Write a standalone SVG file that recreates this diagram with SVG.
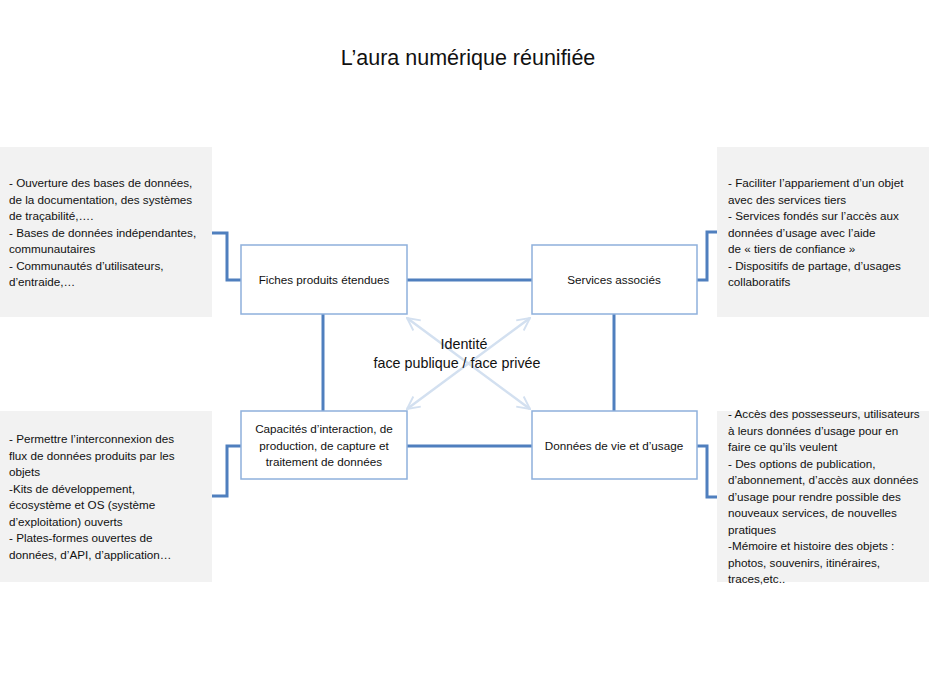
<svg xmlns="http://www.w3.org/2000/svg" width="929" height="697" viewBox="0 0 929 697">
<defs>
<style>
text{font-family:"Liberation Sans",Arial,sans-serif;fill:#111}
.title{font-size:21.5px;text-anchor:middle}
.lbl{font-size:11.7px;text-anchor:middle}
.note{font-size:11.7px}
.mid{font-size:14.3px;text-anchor:middle}
.grey{fill:#f2f2f2}
.node{fill:#fff;stroke:#8eb0dc;stroke-width:1.5}
.conn{fill:none;stroke:#4f7fbe;stroke-width:3}
.diag{fill:none;stroke:#d3e0f0;stroke-width:2.5}
</style>
<marker id="oa" viewBox="0 0 12 12" refX="11" refY="6" markerWidth="6" markerHeight="6" orient="auto-start-reverse" markerUnits="strokeWidth">
<path d="M1,1 L11,6 L1,11" fill="none" stroke="#d3e0f0" stroke-width="1.5"/>
</marker>
</defs>
<rect width="929" height="697" fill="#fff"/>
<text class="title" x="468" y="65">L’aura numérique réunifiée</text>

<g id="note-top-left">
<rect class="grey" x="0" y="147" width="212" height="170"/>
<text class="note" x="9"><tspan x="9" y="187">- Ouverture des bases de données,</tspan><tspan x="9" y="204">de la documentation, des systèmes</tspan><tspan x="9" y="220">de traçabilité,….</tspan><tspan x="9" y="237">- Bases de données indépendantes,</tspan><tspan x="9" y="253">communautaires</tspan><tspan x="9" y="270">- Communautés d’utilisateurs,</tspan><tspan x="9" y="286">d’entraide,…</tspan></text>
</g>
<g id="note-top-right">
<rect class="grey" x="717" y="147" width="212" height="170"/>
<text class="note"><tspan x="728" y="187">- Faciliter l’appariement d’un objet</tspan><tspan x="728" y="204">avec des services tiers</tspan><tspan x="728" y="220">- Services fondés sur l’accès aux</tspan><tspan x="728" y="237">données d’usage avec l’aide</tspan><tspan x="728" y="253">de « tiers de confiance »</tspan><tspan x="728" y="270">- Dispositifs de partage, d’usages</tspan><tspan x="728" y="286">collaboratifs</tspan></text>
</g>
<g id="note-bottom-left">
<rect class="grey" x="0" y="411" width="212" height="171"/>
<text class="note"><tspan x="9" y="443">- Permettre l’interconnexion des</tspan><tspan x="9" y="460">flux de données produits par les</tspan><tspan x="9" y="476">objets</tspan><tspan x="9" y="493">-Kits de développement,</tspan><tspan x="9" y="509">écosystème  et OS (système</tspan><tspan x="9" y="526">d’exploitation) ouverts</tspan><tspan x="9" y="542">- Plates-formes ouvertes de</tspan><tspan x="9" y="559">données, d’API, d’application…</tspan></text>
</g>
<g id="note-bottom-right">
<rect class="grey" x="717" y="411" width="212" height="171"/>
<text class="note"><tspan x="728" y="418">- Accès des possesseurs, utilisateurs</tspan><tspan x="728" y="435">à leurs données d’usage pour en</tspan><tspan x="728" y="451">faire ce qu’ils veulent</tspan><tspan x="728" y="468">- Des options de publication,</tspan><tspan x="728" y="484">d’abonnement, d’accès aux données</tspan><tspan x="728" y="501">d’usage pour rendre possible des</tspan><tspan x="728" y="517">nouveaux services, de nouvelles</tspan><tspan x="728" y="534">pratiques</tspan><tspan x="728" y="550">-Mémoire et histoire des objets :</tspan><tspan x="728" y="567">photos, souvenirs, itinéraires,</tspan><tspan x="728" y="583">traces,etc..</tspan></text>
</g>

<g id="connectors">
<polyline class="conn" points="212,233 227,233 227,280 241,280"/>
<line class="conn" x1="407" y1="280" x2="532" y2="280"/>
<polyline class="conn" points="697,280 707,280 707,232 717,232"/>
<line class="conn" x1="323" y1="314" x2="323" y2="411"/>
<line class="conn" x1="614" y1="314" x2="614" y2="411"/>
<line class="conn" x1="407" y1="446" x2="532" y2="446"/>
<polyline class="conn" points="241,446 227,446 227,496 212,496"/>
<polyline class="conn" points="697,446 707,446 707,497 717,497"/>
<line class="diag" x1="407" y1="318" x2="530" y2="409" marker-start="url(#oa)" marker-end="url(#oa)"/>
<line class="diag" x1="530" y1="318" x2="407" y2="409" marker-start="url(#oa)" marker-end="url(#oa)"/>
</g>

<g id="node-fiches">
<rect class="node" x="241" y="245" width="166" height="69"/>
<text class="lbl" x="324" y="284">Fiches produits étendues</text>
</g>
<g id="node-services">
<rect class="node" x="532" y="245" width="165" height="69"/>
<text class="lbl" x="614" y="284">Services associés</text>
</g>
<g id="node-capacites">
<rect class="node" x="241" y="411" width="166" height="68"/>
<text class="lbl"><tspan x="324" y="433">Capacités d’interaction, de</tspan><tspan x="324" y="450">production, de capture et</tspan><tspan x="324" y="466">traitement de données</tspan></text>
</g>
<g id="node-donnees">
<rect class="node" x="532" y="411" width="165" height="68"/>
<text class="lbl" x="614" y="450">Données de vie et d’usage</text>
</g>
<g id="identite">
<text class="mid"><tspan x="464" y="349">Identité</tspan><tspan x="457" y="368">face publique / face privée</tspan></text>
</g>
</svg>
